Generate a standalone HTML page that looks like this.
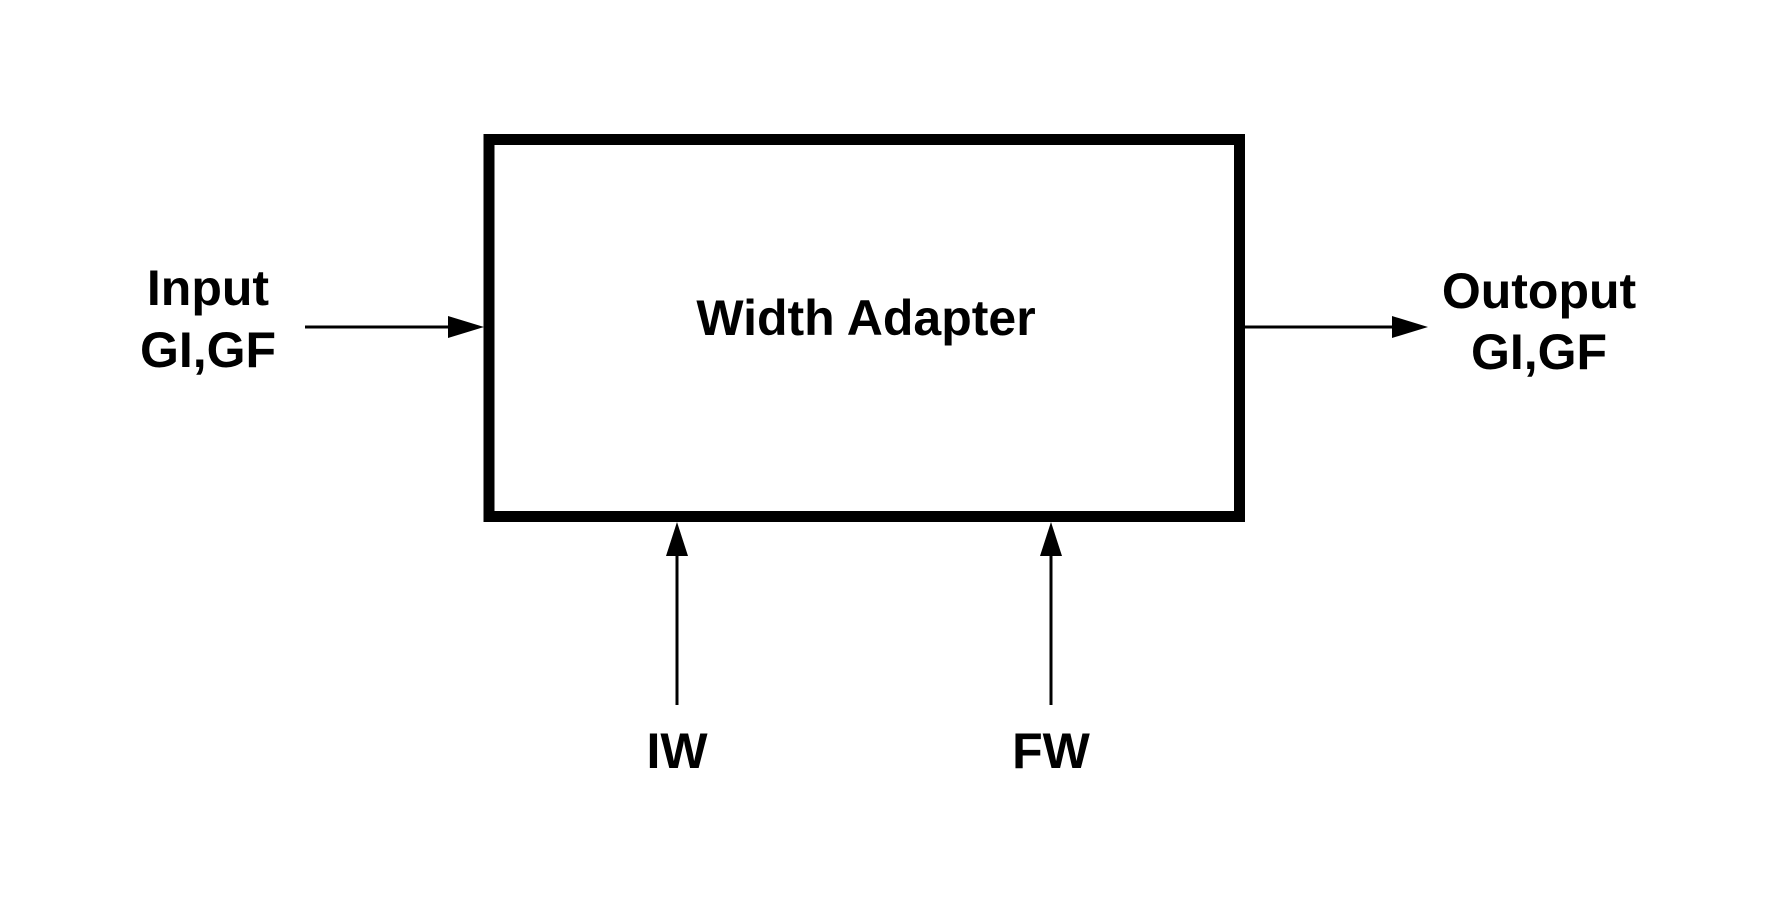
<!DOCTYPE html>
<html><head><meta charset="utf-8"><style>
html,body{margin:0;padding:0;background:#fff;}
svg{display:block;}
text{font-family:"Liberation Sans",sans-serif;font-weight:bold;fill:#000;font-size:50px;text-anchor:middle;}
</style></head><body>
<svg width="1772" height="900" viewBox="0 0 1772 900" xmlns="http://www.w3.org/2000/svg">
<rect x="489" y="139.5" width="750.5" height="377" fill="none" stroke="#000" stroke-width="11"/>
<g stroke="#000" stroke-width="3">
<line x1="305" y1="327" x2="452" y2="327"/>
<line x1="1245" y1="327" x2="1394" y2="327"/>
<line x1="677" y1="705" x2="677" y2="555"/>
<line x1="1051" y1="705" x2="1051" y2="555"/>
</g>
<polygon points="448,316 484,327 448,338" fill="#000"/>
<polygon points="1392,316 1428,327 1392,338" fill="#000"/>
<polygon points="666,556 677,522 688,556" fill="#000"/>
<polygon points="1040,556 1051,522 1062,556" fill="#000"/>
<text x="866" y="335" font-size="52">Width Adapter</text>
<text x="208" y="305">Input</text>
<text x="208" y="367">GI,GF</text>
<text x="1539" y="308">Outoput</text>
<text x="1539" y="369">GI,GF</text>
<text x="677" y="768">IW</text>
<text x="1051" y="768">FW</text>
</svg>
</body></html>
